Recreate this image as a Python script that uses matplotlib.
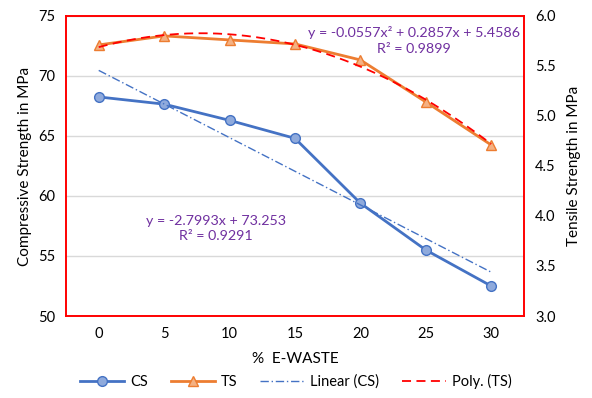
import numpy as np
import matplotlib.pyplot as plt

plt.rcParams['font.family'] = ['Lato', 'DejaVu Sans']

# data
ewaste = ['0', '5', '10', '15', '20', '25', '30']
cs = [68.25, 67.65, 66.3, 64.8, 59.4, 55.5, 52.5]
ts = [5.71, 5.80, 5.76, 5.72, 5.56, 5.14, 4.71]

x = np.arange(1, len(ewaste) + 1)

# Excel style trendlines on category index
lin = np.polyfit(x, cs, 1)
poly = np.polyfit(x, ts, 2)
xf = np.linspace(1, 7, 200)

fig = plt.figure(figsize=(5.92, 3.98), dpi=100)
ax = fig.add_axes([0.1115, 0.206, 0.7735, 0.754])
ax2 = ax.twinx()

l1, = ax.plot(x, cs, '-o', color='#4472C4', lw=2, ms=7,
              mfc='#8FAADC', mec='#4472C4', mew=1, label='CS')
l3, = ax.plot(xf, np.polyval(lin, xf), color='#4472C4', lw=1,
              ls=(0, (6, 2, 1, 2)), label='Linear (CS)')
l2, = ax2.plot(x, ts, '-^', color='#ED7D31', lw=2, ms=7,
               mfc='#F4B183', mec='#ED7D31', mew=1, label='TS')
l4, = ax2.plot(xf, np.polyval(poly, xf), color='#FF0000', lw=1.3,
               ls=(0, (5, 3)), label='Poly. (TS)')

ax.set_xlim(0.5, 7.5)
ax.set_ylim(50, 75)
ax2.set_ylim(3.0, 6.0)
ax.set_xticks(x)
ax.set_xticklabels(ewaste)
ax.set_yticks(np.arange(50, 76, 5))
ax2.set_yticks(np.arange(3.0, 6.01, 0.5))
ax2.set_yticklabels([f'{v:.1f}' for v in np.arange(3.0, 6.01, 0.5)])
ax.grid(axis='y', color='#D9D9D9', lw=1)
ax.set_axisbelow(True)

for a in (ax, ax2):
    a.tick_params(length=0, labelsize=10.5, pad=8)
    for s in a.spines.values():
        s.set_color('#FF0000')
        s.set_linewidth(1.2)

ax.set_ylabel('Compressive Strength in MPa', fontsize=11)
ax2.set_ylabel('Tensile Strength in MPa', fontsize=11, labelpad=8)
ax.set_xlabel('%  E-WASTE', fontsize=11, labelpad=8)

ax.text(0.76, 0.965, 'y = -0.0557x² + 0.2857x + 5.4586\nR² = 0.9899',
        transform=ax.transAxes, color='#7030A0', fontsize=10.3,
        ha='center', va='top', linespacing=1.35)
ax.text(0.327, 0.338, 'y = -2.7993x + 73.253\nR² = 0.9291',
        transform=ax.transAxes, color='#7030A0', fontsize=10.3,
        ha='center', va='top', linespacing=1.35)

fig.legend(handles=[l1, l2, l3, l4], loc='lower center', ncol=4,
           frameon=False, fontsize=10.5, bbox_to_anchor=(0.5, -0.01),
           handlelength=3.0, columnspacing=1.6, handletextpad=0.4)

fig.savefig('out.png', dpi=100)
